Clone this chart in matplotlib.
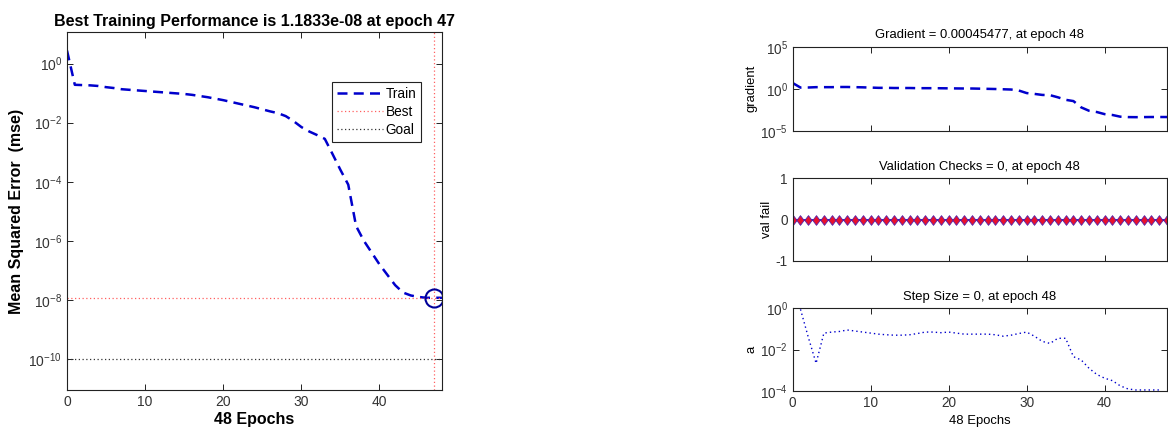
import numpy as np
import matplotlib
matplotlib.use("Agg")
import matplotlib.pyplot as plt
from matplotlib.ticker import FixedLocator, FuncFormatter, NullLocator
from matplotlib.path import Path

plt.rcParams['font.family'] = ['Liberation Sans', 'DejaVu Sans']
plt.rcParams['mathtext.default'] = 'regular'
plt.rcParams['axes.unicode_minus'] = False

# ---- data ----
epochs = list(range(0, 49))
train_log10_mse = [0.44, -0.72, -0.73, -0.74, -0.76, -0.80, -0.83, -0.87, -0.89, -0.91,
                   -0.93, -0.95, -0.97, -0.99, -1.01, -1.03, -1.06, -1.10, -1.14, -1.19,
                   -1.24, -1.30, -1.36, -1.42, -1.48, -1.55, -1.62, -1.68, -1.78, -1.95,
                   -2.15, -2.30, -2.42, -2.55, -3.07, -3.60, -4.10, -5.50, -6.00, -6.40,
                   -6.80, -7.15, -7.50, -7.75, -7.85, -7.90, -7.93, -7.927, -7.93]
best_epoch = 47
best_perf = 1.1833e-08
goal = 1e-10

grad_log10 = [0.69, 0.15, 0.16, 0.20, 0.20, 0.20, 0.22, 0.22, 0.20, 0.18,
              0.15, 0.12, 0.12, 0.10, 0.10, 0.10, 0.08, 0.08, 0.08, 0.07,
              0.06, 0.05, 0.04, 0.04, 0.02, 0.00, -0.02, -0.05, -0.08, -0.20,
              -0.50, -0.60, -0.72, -0.75, -1.00, -1.30, -1.45, -2.20, -2.60, -2.75,
              -3.00, -3.10, -3.30, -3.35, -3.36, -3.35, -3.34, -3.34, -3.342]

val_fail = [0] * 49

step_log10 = [np.nan, -0.05, -1.40, -2.66, -1.20, -1.15, -1.12, -1.05, -1.10, -1.15,
              -1.20, -1.25, -1.28, -1.30, -1.30, -1.28, -1.22, -1.15, -1.15, -1.18,
              -1.15, -1.20, -1.25, -1.25, -1.25, -1.25, -1.28, -1.35, -1.30, -1.22,
              -1.15, -1.35, -1.60, -1.70, -1.45, -1.45, -2.34, -2.50, -2.90, -3.20,
              -3.38, -3.50, -3.75, -3.90, -3.95, -3.95, -3.95, -3.95, np.nan]

perf_title = 'Best Training Performance is 1.1833e-08 at epoch 47'
grad_title = 'Gradient = 0.00045477, at epoch 48'
val_title = 'Validation Checks = 0, at epoch 48'
step_title = 'Step Size = 0, at epoch 48'

W, H = 1168, 430
fig = plt.figure(figsize=(W / 100, H / 100), dpi=100)

def rect(l, r, t, b):
    return [l / W, 1 - b / H, (r - l) / W, (b - t) / H]

def pow_fmt(v, pos):
    e = int(round(np.log10(v)))
    return r'$10^{%d}$' % e

def style(ax, ticklen=4, labelsize=9.8):
    for s in ax.spines.values():
        s.set_linewidth(0.8)
        s.set_color('#222222')
    ax.tick_params(direction='in', top=True, right=True, length=ticklen, width=0.7,
                   colors='#222222', labelcolor='#333333', labelsize=labelsize)
    ax.xaxis.set_minor_locator(NullLocator())
    ax.yaxis.set_minor_locator(NullLocator())

BLUE = '#0000cc'
diamond = Path([(0, 1), (0.75, 0), (0, -1), (-0.75, 0), (0, 1)],
               [Path.MOVETO, Path.LINETO, Path.LINETO, Path.LINETO, Path.CLOSEPOLY])

# ---- left: performance ----
ax = fig.add_axes(rect(67, 442, 32.5, 390))
train = 10 ** np.array(train_log10_mse)
ax.plot(epochs, train, color=BLUE, lw=1.8, ls=(0, (4, 2.5)), label='Train')
ax.axvline(best_epoch, color='#ff6060', lw=0.9, ls=(0, (1, 2)))
ax.axhline(best_perf, color='#ff6060', lw=0.9, ls=(0, (1, 2)), label='Best')
ax.axhline(goal, color='#333333', lw=0.9, ls=(0, (1, 2)), label='Goal')
ax.plot([best_epoch], [best_perf], 'o', mfc='none', mec='#000099', ms=13, mew=1.5)
ax.set_yscale('log')
ax.set_xlim(0, 48)
ax.set_ylim(10 ** -11.05, 10 ** 1.05)
style(ax, labelsize=10)
ax.yaxis.set_major_locator(FixedLocator([10.0 ** k for k in range(-10, 1, 2)]))
ax.yaxis.set_minor_locator(NullLocator())
ax.yaxis.set_major_formatter(FuncFormatter(pow_fmt))
ax.set_xticks([0, 10, 20, 30, 40])
ax.set_title(perf_title, fontsize=11.5, fontweight='bold', pad=5)
ax.set_xlabel('48 Epochs', fontsize=11.5, fontweight='bold', labelpad=2.5)
ax.set_ylabel('Mean Squared Error  (mse)', fontsize=11.5, fontweight='bold', labelpad=3)
leg = ax.legend(loc='upper right', bbox_to_anchor=(0.944, 0.862), borderaxespad=0,
                fancybox=False, framealpha=1, edgecolor='#222222', fontsize=9.8,
                handlelength=3.4, handletextpad=0.15, borderpad=0.35, labelspacing=0.3)
leg.get_frame().set_linewidth(0.8)

# ---- right: gradient ----
RL, RR = 792.7, 1167
ax1 = fig.add_axes(rect(RL, RR, 46.7, 131))
ax1.plot(epochs, 10 ** np.array(grad_log10), color=BLUE, lw=1.8, ls=(0, (4, 2.5)))
ax1.set_yscale('log')
ax1.set_xlim(0, 48)
ax1.set_ylim(1e-5, 1e5)
style(ax1)
ax1.yaxis.set_major_locator(FixedLocator([1e-5, 1e0, 1e5]))
ax1.yaxis.set_minor_locator(NullLocator())
ax1.yaxis.set_major_formatter(FuncFormatter(pow_fmt))
ax1.set_xticks([0, 10, 20, 30, 40])
ax1.tick_params(labelbottom=False)
ax1.set_title(grad_title, fontsize=9.4, pad=6)
ax1.set_ylabel('gradient', fontsize=9.4, labelpad=2)

# ---- right: validation ----
ax2 = fig.add_axes(rect(RL, RR, 178.3, 261))
ax2.plot(epochs, val_fail, color=BLUE, lw=1.2, marker=diamond, ms=7,
         mfc='#e8102c', mec='#5522aa', mew=0.6)
ax2.set_xlim(0, 48)
ax2.set_ylim(-1, 1)
style(ax2)
ax2.set_yticks([-1, 0, 1])
ax2.set_xticks([0, 10, 20, 30, 40])
ax2.tick_params(labelbottom=False)
ax2.set_title(val_title, fontsize=9.4, pad=6)
ax2.set_ylabel('val fail', fontsize=9.4, labelpad=2)

# ---- right: step size ----
ax3 = fig.add_axes(rect(RL, RR, 308.3, 391))
ax3.plot(epochs, 10 ** np.array(step_log10), color=BLUE, lw=1.0, ls=(0, (1, 2.2)))
ax3.set_yscale('log')
ax3.set_xlim(0, 48)
ax3.set_ylim(1e-4, 1e0)
style(ax3)
ax3.yaxis.set_major_locator(FixedLocator([1e-4, 1e-2, 1e0]))
ax3.yaxis.set_minor_locator(NullLocator())
ax3.yaxis.set_major_formatter(FuncFormatter(pow_fmt))
ax3.set_xticks([0, 10, 20, 30, 40])
ax3.set_title(step_title, fontsize=9.4, pad=6)
ax3.set_ylabel('a', fontsize=9.4, labelpad=2)
ax3.set_xlabel('48 Epochs', fontsize=9.4, labelpad=4)

fig.savefig('out.png', dpi=100)
